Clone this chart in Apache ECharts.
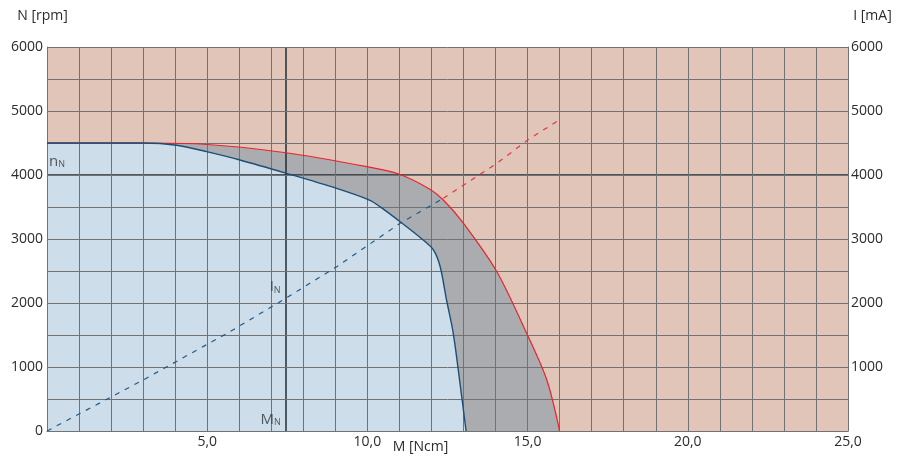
<!DOCTYPE html>
<html>
<head>
<meta charset="utf-8">
<script src="https://cdn.jsdelivr.net/npm/echarts@6/dist/echarts.min.js"></script>
<style>
html,body{margin:0;padding:0;background:#fff;}
#chart{width:897px;height:459px;}
</style>
</head>
<body>
<div id="chart"></div>
<script>
// torque M [Ncm], speed N [rpm]
const lowerCurve = [[0,4500],[3.0,4500],[4.05,4465],[4.98,4365],[6.02,4235],[7.45,4030],[9.04,3790],[10.08,3605],[10.39,3505],[11.02,3270],[11.74,2985],[12.06,2830],[12.27,2570],[12.47,2047],[12.68,1527],[12.89,745],[13.08,0]];
const upperCurve = [[0,4500],[3.0,4500],[4.78,4484],[7.46,4348],[9.98,4130],[11.0,4011],[11.95,3777],[12.37,3609],[13.0,3245],[14.04,2489],[14.97,1527],[15.6,797],[16.0,0]];
// current I [mA]
const currentInside = [[0,0],[3.0,797],[5.71,1552],[7.45,2073],[9.04,2567],[11.02,3245],[12.37,3636]];
const currentOutside = [[12.37,3636],[14.04,4182],[15.03,4557],[16.0,4864]];
const nominalTorque = 7.45;
const nominalSpeed = 4000;
const annotations = [
  {main:'n', sub:'N', at:[0.31,4250]},
  {main:'I', sub:'N', at:[7.12,2286]},
  {main:'M', sub:'N', at:[6.98,219]}
];
const xLabels = [5,10,15,20,25];
const yLabels = [1000,2000,3000,4000,5000,6000];

const FONT = '"Open Sans", sans-serif';
const TXT = '#2b2b2b';
const GRIDC = '#727272';
const SMOOTH = 0.3;

const chart = echarts.init(document.getElementById('chart'), null, {renderer:'canvas'});
chart.setOption({
  animation:false,
  textStyle:{fontFamily:FONT},
  grid:{left:47, right:49, top:47, bottom:28, show:true, backgroundColor:'#e2c5b9', borderWidth:0,
        containLabel:false, outerBoundsMode:'none'},
  xAxis:{
    type:'value', min:0, max:25, interval:1, z:10,
    name:'M [Ncm]', nameLocation:'middle', nameGap:16, nameMoveOverlap:false,
    nameTextStyle:{fontFamily:FONT, fontSize:14, color:TXT, padding:[0,54,0,0], verticalAlign:'middle'},
    axisLine:{show:true, lineStyle:{color:GRIDC, width:1}},
    axisTick:{show:false},
    axisLabel:{margin:4, fontFamily:FONT, fontSize:14, color:TXT,
      formatter:v => xLabels.indexOf(v) >= 0 ? v.toFixed(1).replace('.',',') : ''},
    splitLine:{show:true, lineStyle:{color:GRIDC, width:1}}
  },
  yAxis:[{
    type:'value', min:0, max:6000, interval:500, z:10, position:'left',
    name:'N [rpm]', nameLocation:'end', nameGap:24,
    nameTextStyle:{fontFamily:FONT, fontSize:14, color:TXT, padding:[0,9,0,0]},
    axisLine:{show:true, lineStyle:{color:GRIDC, width:1}},
    axisTick:{show:false},
    axisLabel:{margin:4, fontFamily:FONT, fontSize:14, color:TXT,
      formatter:v => (v===0 || yLabels.indexOf(v) >= 0) ? String(v) : ''},
    splitLine:{show:true, lineStyle:{color:GRIDC, width:1}}
  },{
    type:'value', min:0, max:6000, interval:500, z:10, position:'right',
    name:'I [mA]', nameLocation:'end', nameGap:24,
    nameTextStyle:{fontFamily:FONT, fontSize:14, color:TXT, padding:[0,0,0,49]},
    axisLine:{show:true, lineStyle:{color:GRIDC, width:1}},
    axisTick:{show:false},
    axisLabel:{margin:3, fontFamily:FONT, fontSize:14, color:TXT,
      formatter:v => yLabels.indexOf(v) >= 0 ? String(v) : ''},
    splitLine:{show:false}
  }],
  series:[
    {type:'line', data:upperCurve, z:1, symbol:'none', smooth:SMOOTH, lineStyle:{width:0}, areaStyle:{color:'#abacb0', opacity:1}},
    {type:'line', data:lowerCurve, z:2, symbol:'none', smooth:SMOOTH, lineStyle:{width:0}, areaStyle:{color:'#cddeea', opacity:1}},
    {type:'line', data:currentInside, yAxisIndex:1, z:20, symbol:'none', lineStyle:{color:'#1d5a8c', width:1.2, type:[5,6]}},
    {type:'line', data:currentOutside, yAxisIndex:1, z:20, symbol:'none', lineStyle:{color:'#e8343c', width:1.2, type:[5,6]}},
    {type:'line', data:upperCurve, z:21, symbol:'none', smooth:SMOOTH, lineStyle:{color:'#e8232c', width:1.2}},
    {type:'line', data:lowerCurve, z:22, symbol:'none', smooth:SMOOTH, lineStyle:{color:'#1c4e78', width:1.4}},
    {type:'line', data:[], z:23, symbol:'none',
      markLine:{symbol:'none', silent:true, label:{show:false},
        lineStyle:{color:'#1f2d38', width:1.5, type:'solid'},
        data:[{xAxis:nominalTorque},{yAxis:nominalSpeed}]}},
    {type:'scatter', z:24, symbolSize:0,
      data:annotations.map(a => ({value:a.at, name:a.main, sub:a.sub})),
      label:{show:true, position:'inside', color:'#333',
        formatter:p => '{m|' + p.data.name + '}{s|' + p.data.sub + '}',
        rich:{
          m:{fontFamily:FONT, fontSize:15, lineHeight:20, color:'#333', verticalAlign:'bottom'},
          s:{fontFamily:FONT, fontSize:9, lineHeight:9, color:'#333', verticalAlign:'bottom'}
        }}}
  ]
});
</script>
</body>
</html>
